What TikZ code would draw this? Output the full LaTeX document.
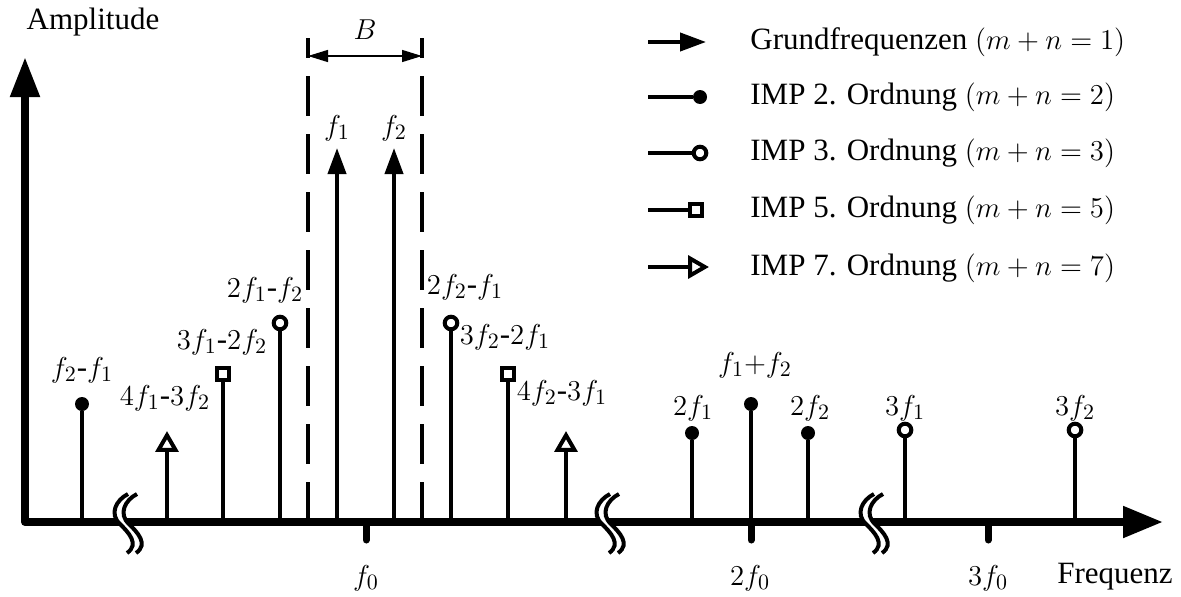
\documentclass[tikz,border=0pt]{standalone}
\usepackage{fontspec}
\setmainfont{Liberation Serif}
\usepackage{amsmath}
\usetikzlibrary{arrows.meta, shapes.geometric}

\tikzset{
  axisline/.style={line width=4pt, line join=round,
    {Triangle[length=20pt,width=14pt]}-{Triangle[length=20pt,width=15pt]}},
  tickline/.style={line width=3.5pt, line cap=round},
  stem/.style={line width=2pt},
  grund/.style={stem, -{Triangle[length=13pt,width=9pt]}},
  dotmark/.style={circle, fill, inner sep=0pt, minimum size=7pt},
  ringmark/.style={circle, draw, fill=white, line width=2pt, inner sep=0pt, minimum size=6.3pt},
  boxmark/.style={rectangle, draw, fill=white, line width=2pt, inner sep=0pt, minimum size=6pt},
  trimark/.style={regular polygon, regular polygon sides=3, draw, fill=white, line width=2pt, inner sep=0pt, minimum size=9.8pt},
  bandline/.style={line width=2pt, dash pattern=on 20pt off 9pt, dash phase=10pt},
  bandarrow/.style={line width=0.7pt, {Triangle[length=10pt,width=6pt]}-{Triangle[length=10pt,width=6pt]}},
  breakline/.style={line width=2pt},
  lbl/.style={font=\fontsize{15.5}{18}\selectfont, inner sep=1pt},
}

\begin{document}
\begin{tikzpicture}[x=0.5pt, y=0.5pt]
\useasboundingbox (-25,-74) rectangle (1156,522);

\coordinate (O) at (0,0);
\coordinate (Ytip) at (0,465);
\coordinate (Xtip) at (1138,0);

\draw[axisline] (Ytip) -- (O) -- (Xtip);

\def\brk#1{%
  \draw[white, line width=4.5pt] (#1+12.5,28) .. controls (#1+0.5,22) and (#1-6.5,8) .. (#1+4.5,-2)
    .. controls (#1+12.5,-10) and (#1+24.5,-22) .. (#1+11.5,-31);
  \draw[breakline] (#1+8,28) .. controls (#1-4,22) and (#1-11,8) .. (#1,-2)
    .. controls (#1+8,-10) and (#1+20,-22) .. (#1+7,-31);
  \draw[breakline] (#1+17,28) .. controls (#1+5,22) and (#1-2,8) .. (#1+9,-2)
    .. controls (#1+17,-10) and (#1+29,-22) .. (#1+16,-31);}
\brk{95}
\brk{577}
\brk{841}

\coordinate (F0) at (341,0);
\coordinate (FF0) at (726,0);
\coordinate (FFF0) at (963,0);
\draw[tickline] (F0) -- ++(0,-18);
\draw[tickline] (FF0) -- ++(0,-18);
\draw[tickline] (FFF0) -- ++(0,-18);

\coordinate (BL) at (283,0);
\coordinate (BR) at (397,0);
\coordinate (BLt) at (283,466);
\coordinate (BRt) at (397,466);
\draw[bandline] (283,484) -- (BL);
\draw[bandline] (397,484) -- (BR);
\draw[bandarrow] (BLt) -- (BRt);

\coordinate (F1) at (312,374);
\coordinate (F2) at (369,374);
\draw[grund] (F1 |- O) -- (F1);
\draw[grund] (F2 |- O) -- (F2);

\node[dotmark] (d21) at (57,118) {};
\node[trimark] (t4132) at (142,77) {};
\node[boxmark] (s3122) at (198,148) {};
\node[ringmark] (r2112) at (255,199) {};
\node[ringmark] (r2211) at (426,199) {};
\node[boxmark] (s3221) at (483,148) {};
\node[trimark] (t4231) at (541,77) {};
\node[dotmark] (d2f1) at (667,89) {};
\node[dotmark] (dsum) at (726,118) {};
\node[dotmark] (d2f2) at (783,89) {};
\node[ringmark] (r3f1) at (880,92) {};
\node[ringmark] (r3f2) at (1050,92) {};

\draw[stem] (d21 |- O) -- (d21);
\draw[stem] (t4132 |- O) -- (t4132);
\draw[stem] (s3122 |- O) -- (s3122);
\draw[stem] (r2112 |- O) -- (r2112);
\draw[stem] (r2211 |- O) -- (r2211);
\draw[stem] (s3221 |- O) -- (s3221);
\draw[stem] (t4231 |- O) -- (t4231);
\draw[stem] (d2f1 |- O) -- (d2f1);
\draw[stem] (dsum |- O) -- (dsum);
\draw[stem] (d2f2 |- O) -- (d2f2);
\draw[stem] (r3f1 |- O) -- (r3f1);
\draw[stem] (r3f2 |- O) -- (r3f2);

\node[lbl] (amp) at (68,500) {Amplitude};
\node[lbl] (frq) at (1090,-55) {Frequenz};
\node[lbl] (bw) at (340,492) {$B$};
\node[lbl] (lf1) at (312,394) {$f_1$};
\node[lbl] (lf2) at (369,394) {$f_2$};
\node[lbl] (l21) at (57,152) {$f_2$-$f_1$};
\node[lbl] (l4132) at (140,124) {$4f_1$-$3f_2$};
\node[lbl] (l3122) at (197,180) {$3f_1$-$2f_2$};
\node[lbl] (l2112) at (240,232) {$2f_1$-$f_2$};
\node[lbl] (l2211) at (440,235) {$2f_2$-$f_1$};
\node[lbl] (l3221) at (480,185) {$3f_2$-$2f_1$};
\node[lbl] (l4231) at (537,129) {$4f_2$-$3f_1$};
\node[lbl] (l2f1) at (668,114) {$2f_1$};
\node[lbl] (lsum) at (730,157) {$f_1{+}f_2$};
\node[lbl] (l2f2) at (785,114) {$2f_2$};
\node[lbl] (l3f1) at (880,114) {$3f_1$};
\node[lbl] (l3f2) at (1050,114) {$3f_2$};
\node[lbl] (lf0) at (341,-56) {$f_0$};
\node[lbl] (lff0) at (725,-56) {$2f_0$};
\node[lbl] (lfff0) at (963,-56) {$3f_0$};

\coordinate (G1) at (623,480);
\coordinate (G1e) at (681,480);
\node[dotmark] (g2) at (675,425) {};
\node[ringmark] (g3) at (675,369) {};
\node[boxmark] (g5) at (671,312) {};
\node[trimark, rotate=-90] (g7) at (670,255) {};
\draw[grund] (G1) -- (G1e);
\draw[stem] (623,425) -- (g2);
\draw[stem] (623,369) -- (g3);
\draw[stem] (623,312) -- (g5);
\draw[stem] (623,255) -- (g7);
\node[lbl, anchor=west] (leg1) at (723,480) {Grundfrequenzen $(m+n=1)$};
\node[lbl, anchor=west] (leg2) at (723,425) {IMP 2. Ordnung $(m+n=2)$};
\node[lbl, anchor=west] (leg3) at (723,369) {IMP 3. Ordnung $(m+n=3)$};
\node[lbl, anchor=west] (leg5) at (723,312) {IMP 5. Ordnung $(m+n=5)$};
\node[lbl, anchor=west] (leg7) at (723,254) {IMP 7. Ordnung $(m+n=7)$};
\end{tikzpicture}
\end{document}
